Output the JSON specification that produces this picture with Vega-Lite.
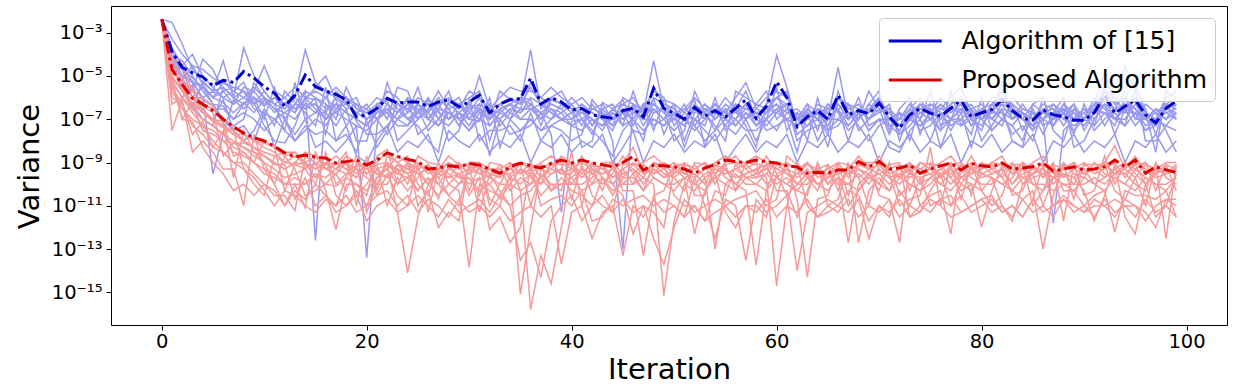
{
"$schema":"https://vega.github.io/schema/vega-lite/v6.json",
"width":1116,"height":319,
"autosize":{"type":"none"},
"padding":{"left":111,"top":6,"right":24,"bottom":67},
"background":"white",
"config":{"view":{"stroke":"#000000","strokeWidth":1},"font":"DejaVu Sans",
"axis":{"grid":false,"domain":false,"tickColor":"#000000","tickSize":5,"tickWidth":1,"labelColor":"#000000","titleColor":"#000000","labelFont":"DejaVu Sans","titleFont":"DejaVu Sans","titleFontWeight":"normal","labelFontSize":19.5,"titleFontSize":29}},
"data":{"values":[
{"i":0,"b0":4.2e-3,"b1":4.2e-3,"b2":4.2e-3,"b3":4.2e-3,"b4":4.2e-3,"b5":4.2e-3,"b6":4.2e-3,"b7":4.2e-3,"b8":4.2e-3,"b9":4.2e-3,"b10":4.2e-3,"b11":4.2e-3,"b12":4.2e-3,"b13":4.2e-3,"b14":4.2e-3,"b15":4.2e-3,"r0":4.2e-3,"r1":4.2e-3,"r2":4.2e-3,"r3":4.2e-3,"r4":4.2e-3,"r5":4.2e-3,"r6":4.2e-3,"r7":4.2e-3,"r8":4.2e-3,"r9":4.2e-3,"r10":4.2e-3,"r11":4.2e-3,"r12":4.2e-3,"r13":4.2e-3,"r14":4.2e-3,"r15":4.2e-3,"mb":4.2e-3,"mr":4.2e-3},
{"i":1,"b0":3e-3,"b1":2e-4,"b2":5e-5,"b3":1e-4,"b4":3e-5,"b5":7e-5,"b6":2e-5,"b7":1e-4,"b8":6e-6,"b9":4e-5,"b10":5e-4,"b11":8e-5,"b12":3e-5,"b13":1e-5,"b14":2e-4,"b15":4e-5,"r0":1e-4,"r1":2e-5,"r2":5e-6,"r3":1e-5,"r4":2e-6,"r5":3e-8,"r6":5e-6,"r7":3e-5,"r8":1e-6,"r9":8e-6,"r10":6e-5,"r11":1e-5,"r12":3e-6,"r13":5e-7,"r14":2e-5,"r15":8e-6,"mb":1.3e-4,"mr":2e-5},
{"i":2,"b0":3e-4,"b1":3e-5,"b2":1e-5,"b3":5e-5,"b4":4e-6,"b5":1e-5,"b6":6e-6,"b7":2e-5,"b8":1e-6,"b9":8e-6,"b10":1e-4,"b11":2e-5,"b12":5e-6,"b13":3e-5,"b14":8e-6,"b15":2e-6,"r0":3e-5,"r1":5e-6,"r2":1e-6,"r3":2e-6,"r4":3e-7,"r5":8e-7,"r6":1e-7,"r7":4e-6,"r8":5e-7,"r9":2e-6,"r10":8e-6,"r11":2e-6,"r12":5e-7,"r13":1e-6,"r14":3e-6,"r15":1e-7,"mb":2.5e-5,"mr":4e-6},
{"i":3,"b0":2e-5,"b1":1e-4,"b2":5e-6,"b3":1e-5,"b4":2e-6,"b5":6e-6,"b6":3e-5,"b7":1e-6,"b8":4e-6,"b9":3e-7,"b10":3e-5,"b11":8e-6,"b12":2e-6,"b13":5e-6,"b14":1e-6,"b15":5e-7,"r0":2e-6,"r1":1e-6,"r2":3e-7,"r3":5e-7,"r4":1e-7,"r5":3e-9,"r6":6e-7,"r7":3e-6,"r8":2e-8,"r9":8e-7,"r10":1e-6,"r11":3e-7,"r12":5e-8,"r13":2e-7,"r14":5e-7,"r15":8e-8,"mb":1.4e-5,"mr":9.3e-7},
{"i":4,"b0":5e-6,"b1":1e-5,"b2":3e-6,"b3":2e-6,"b4":6e-5,"b5":8e-7,"b6":4e-6,"b7":1e-6,"b8":2e-7,"b9":6e-6,"b10":2e-5,"b11":3e-6,"b12":5e-7,"b13":1e-6,"b14":3e-6,"b15":1e-7,"r0":5e-7,"r1":2e-7,"r2":1e-7,"r3":3e-8,"r4":5e-8,"r5":1e-8,"r6":2e-7,"r7":4e-7,"r8":8e-8,"r9":1e-6,"r10":3e-7,"r11":1e-7,"r12":2e-8,"r13":5e-8,"r14":2e-7,"r15":5e-9,"mb":9e-6,"mr":5e-7},
{"i":5,"b0":2e-6,"b1":3e-6,"b2":1e-6,"b3":5e-7,"b4":2e-5,"b5":4e-7,"b6":1e-6,"b7":3e-10,"b8":1e-7,"b9":2e-6,"b10":8e-6,"b11":1e-6,"b12":3e-7,"b13":2e-6,"b14":5e-7,"b15":5e-8,"r0":3e-7,"r1":1e-7,"r2":5e-8,"r3":2e-8,"r4":1e-8,"r5":3e-9,"r6":1e-7,"r7":2e-7,"r8":5e-9,"r9":4e-7,"r10":1e-7,"r11":5e-8,"r12":5e-9,"r13":3e-8,"r14":8e-8,"r15":1e-9,"mb":3.5e-6,"mr":2.5e-7},
{"i":6,"b0":3e-6,"b1":1e-6,"b2":5e-6,"b3":4e-7,"b4":2e-6,"b5":1e-7,"b6":6e-7,"b7":2e-8,"b8":8e-7,"b9":5e-5,"b10":5e-6,"b11":2e-6,"b12":3e-7,"b13":1e-6,"b14":1e-7,"b15":3e-6,"r0":1e-7,"r1":5e-8,"r2":2e-8,"r3":1e-8,"r4":3e-9,"r5":5e-10,"r6":8e-8,"r7":2e-9,"r8":3e-8,"r9":6e-8,"r10":5e-8,"r11":2e-8,"r12":3e-9,"r13":1e-8,"r14":4e-8,"r15":3e-10,"mb":6.3e-6,"mr":1e-7},
{"i":7,"b0":1e-6,"b1":5e-7,"b2":2e-6,"b3":1e-7,"b4":3e-6,"b5":5e-8,"b6":2e-7,"b7":8e-7,"b8":3e-8,"b9":1e-6,"b10":3e-6,"b11":5e-7,"b12":1e-7,"b13":2e-6,"b14":3e-8,"b15":1e-6,"r0":5e-8,"r1":2e-8,"r2":1e-8,"r3":3e-9,"r4":1e-9,"r5":5e-10,"r6":2e-9,"r7":8e-9,"r8":3e-8,"r9":2e-10,"r10":3e-8,"r11":5e-9,"r12":1e-9,"r13":8e-9,"r14":2e-8,"r15":5e-11,"mb":5e-6,"mr":4.5e-8},
{"i":8,"b0":2e-4,"b1":3e-6,"b2":1e-6,"b3":5e-7,"b4":2e-6,"b5":1e-7,"b6":6e-7,"b7":3e-7,"b8":1e-8,"b9":2e-6,"b10":2e-6,"b11":1e-6,"b12":2e-7,"b13":5e-6,"b14":5e-8,"b15":5e-7,"r0":2e-8,"r1":1e-8,"r2":5e-9,"r3":2e-9,"r4":1e-9,"r5":1e-11,"r6":3e-9,"r7":8e-9,"r8":5e-10,"r9":3e-8,"r10":1e-8,"r11":3e-9,"r12":5e-10,"r13":5e-9,"r14":2e-8,"r15":1e-10,"mb":1.6e-5,"mr":2.3e-8},
{"i":9,"b0":1e-5,"b1":2e-6,"b2":5e-7,"b3":1e-6,"b4":3e-7,"b5":5e-6,"b6":2e-7,"b7":1e-6,"b8":3e-8,"b9":6e-7,"b10":1e-6,"b11":3e-6,"b12":1e-7,"b13":5e-7,"b14":1e-8,"b15":2e-6,"r0":1e-8,"r1":5e-9,"r2":2e-9,"r3":1e-9,"r4":3e-10,"r5":2e-8,"r6":1e-9,"r7":5e-9,"r8":1e-10,"r9":3e-9,"r10":5e-9,"r11":1e-9,"r12":2e-10,"r13":3e-9,"r14":1e-8,"r15":3e-11,"mb":8e-6,"mr":1.4e-8},
{"i":10,"b0":2e-6,"b1":3e-5,"b2":1e-6,"b3":4e-7,"b4":2e-7,"b5":1e-6,"b6":8e-7,"b7":1e-7,"b8":3e-7,"b9":5e-8,"b10":5e-7,"b11":1e-6,"b12":3e-8,"b13":2e-6,"b14":2e-7,"b15":5e-7,"r0":5e-9,"r1":2e-9,"r2":1e-9,"r3":3e-10,"r4":1e-10,"r5":5e-10,"r6":1e-8,"r7":2e-9,"r8":3e-11,"r9":1e-9,"r10":3e-9,"r11":5e-10,"r12":5e-11,"r13":2e-9,"r14":8e-9,"r15":1e-10,"mb":3.2e-6,"mr":1e-8},
{"i":11,"b0":5e-7,"b1":2e-6,"b2":3e-7,"b3":1e-6,"b4":1e-7,"b5":5e-7,"b6":2e-7,"b7":3e-6,"b8":5e-8,"b9":1e-8,"b10":1e-6,"b11":3e-7,"b12":1e-7,"b13":5e-7,"b14":5e-9,"b15":1e-6,"r0":3e-9,"r1":1e-9,"r2":5e-10,"r3":2e-10,"r4":3e-11,"r5":1e-10,"r6":5e-9,"r7":8e-10,"r8":2e-9,"r9":1e-10,"r10":2e-9,"r11":3e-10,"r12":1e-11,"r13":1e-9,"r14":5e-9,"r15":5e-11,"mb":1.6e-6,"mr":5.6e-9},
{"i":12,"b0":3e-7,"b1":1e-6,"b2":1e-7,"b3":5e-7,"b4":2e-7,"b5":3e-8,"b6":6e-7,"b7":1e-7,"b8":2e-6,"b9":8e-9,"b10":5e-7,"b11":2e-7,"b12":3e-8,"b13":1e-6,"b14":1e-7,"b15":3e-7,"r0":1e-9,"r1":5e-10,"r2":2e-10,"r3":1e-10,"r4":3e-11,"r5":2e-9,"r6":5e-11,"r7":8e-10,"r8":3e-9,"r9":1e-11,"r10":1e-9,"r11":1e-10,"r12":5e-11,"r13":5e-10,"r14":2e-9,"r15":1e-11,"mb":4e-7,"mr":2.8e-9},
{"i":13,"b0":1e-6,"b1":3e-6,"b2":5e-7,"b3":2e-7,"b4":1e-7,"b5":5e-6,"b6":3e-7,"b7":1e-8,"b8":6e-7,"b9":5e-8,"b10":2e-7,"b11":5e-7,"b12":1e-8,"b13":3e-7,"b14":2e-8,"b15":1e-6,"r0":2e-9,"r1":1e-9,"r2":3e-10,"r3":1e-10,"r4":6e-12,"r5":5e-10,"r6":8e-10,"r7":2e-11,"r8":3e-9,"r9":1e-10,"r10":8e-10,"r11":2e-10,"r12":3e-11,"r13":1e-9,"r14":3e-9,"r15":5e-11,"mb":1.3e-6,"mr":1.8e-9},
{"i":14,"b0":1.6e-4,"b1":1e-6,"b2":3e-7,"b3":2e-6,"b4":5e-7,"b5":1e-7,"b6":8e-7,"b7":3e-8,"b8":2e-7,"b9":1e-6,"b10":1e-6,"b11":2e-6,"b12":5e-8,"b13":5e-7,"b14":1e-7,"b15":3e-7,"r0":1e-9,"r1":3e-9,"r2":5e-10,"r3":1e-10,"r4":2e-9,"r5":3e-11,"r6":1e-9,"r7":2e-10,"r8":6e-10,"r9":8e-12,"r10":5e-10,"r11":1e-10,"r12":1e-11,"r13":8e-10,"r14":1e-9,"r15":2e-11,"mb":1.1e-5,"mr":2.2e-9},
{"i":15,"b0":5e-6,"b1":2e-6,"b2":1e-6,"b3":2.5e-13,"b4":5e-7,"b5":2e-7,"b6":3e-6,"b7":1e-7,"b8":5e-8,"b9":8e-7,"b10":3e-7,"b11":1e-6,"b12":2e-8,"b13":2e-7,"b14":5e-9,"b15":5e-7,"r0":5e-10,"r1":2e-9,"r2":1e-10,"r3":3e-10,"r4":1e-9,"r5":5e-11,"r6":2e-10,"r7":1e-11,"r8":8e-10,"r9":3e-9,"r10":1e-9,"r11":3e-10,"r12":5e-12,"r13":5e-10,"r14":2e-9,"r15":1e-10,"mb":3.2e-6,"mr":1.8e-9},
{"i":16,"b0":2e-6,"b1":1e-6,"b2":3e-7,"b3":5e-7,"b4":1e-7,"b5":2e-7,"b6":1e-5,"b7":5e-8,"b8":3e-6,"b9":2e-8,"b10":1e-7,"b11":5e-7,"b12":3e-8,"b13":1e-6,"b14":1e-8,"b15":2e-7,"r0":1e-9,"r1":5e-10,"r2":3e-9,"r3":2e-10,"r4":5e-11,"r5":1e-10,"r6":8e-10,"r7":3e-11,"r8":2e-9,"r9":5e-10,"r10":5e-10,"r11":1e-10,"r12":2e-11,"r13":1e-9,"r14":8e-10,"r15":3e-11,"mb":2e-6,"mr":1.6e-9},
{"i":17,"b0":1e-6,"b1":3e-6,"b2":5e-7,"b3":1e-7,"b4":2e-7,"b5":5e-8,"b6":8e-7,"b7":3e-7,"b8":1e-8,"b9":2e-6,"b10":5e-7,"b11":2e-7,"b12":1e-8,"b13":3e-7,"b14":3e-9,"b15":1e-6,"r0":5e-10,"r1":1e-9,"r2":1e-10,"r3":5e-10,"r4":8e-13,"r5":3e-10,"r6":2e-9,"r7":1e-11,"r8":3e-11,"r9":8e-10,"r10":3e-10,"r11":8e-11,"r12":1e-11,"r13":5e-10,"r14":1e-9,"r15":5e-12,"mb":1.4e-6,"mr":9.5e-10},
{"i":18,"b0":5e-7,"b1":1e-6,"b2":2e-7,"b3":3e-6,"b4":1e-7,"b5":3e-7,"b6":5e-8,"b7":1e-6,"b8":2e-8,"b9":6e-7,"b10":2e-7,"b11":1e-6,"b12":5e-8,"b13":5e-7,"b14":1e-8,"b15":3e-7,"r0":2e-9,"r1":5e-10,"r2":3e-10,"r3":1e-9,"r4":1e-10,"r5":5e-11,"r6":8e-10,"r7":2e-10,"r8":1e-11,"r9":3e-9,"r10":1e-9,"r11":2e-10,"r12":3e-11,"r13":3e-10,"r14":5e-10,"r15":1e-11,"mb":8e-7,"mr":1.1e-9},
{"i":19,"b0":2e-7,"b1":5e-7,"b2":1e-7,"b3":3e-7,"b4":5e-8,"b5":1e-8,"b6":2e-7,"b7":8e-8,"b8":3e-9,"b9":1e-6,"b10":1e-7,"b11":3e-7,"b12":2e-9,"b13":2e-7,"b14":5e-8,"b15":5e-7,"r0":1e-9,"r1":2e-10,"r2":5e-10,"r3":3e-11,"r4":1e-10,"r5":8e-10,"r6":3e-10,"r7":2e-9,"r8":5e-11,"r9":1e-11,"r10":5e-10,"r11":1e-10,"r12":5e-12,"r13":8e-10,"r14":2e-10,"r15":3e-11,"mb":1.3e-7,"mr":1.3e-9},
{"i":20,"b0":3e-7,"b1":1e-7,"b2":5e-8,"b3":2e-7,"b4":4e-14,"b5":1e-8,"b6":5e-7,"b7":2e-8,"b8":1e-7,"b9":8e-8,"b10":5e-8,"b11":2e-7,"b12":1e-9,"b13":1e-7,"b14":3e-8,"b15":3e-7,"r0":5e-10,"r1":1e-9,"r2":2e-10,"r3":1e-10,"r4":3e-11,"r5":5e-12,"r6":8e-10,"r7":3e-10,"r8":1e-11,"r9":2e-9,"r10":3e-10,"r11":5e-11,"r12":1e-11,"r13":5e-10,"r14":1e-9,"r15":2e-12,"mb":1.6e-7,"mr":7.6e-10},
{"i":21,"b0":1e-6,"b1":2e-7,"b2":3e-7,"b3":1e-7,"b4":5e-8,"b5":5e-7,"b6":1e-7,"b7":2e-8,"b8":3e-7,"b9":5e-9,"b10":2e-7,"b11":5e-7,"b12":1e-8,"b13":3e-7,"b14":1e-7,"b15":1e-7,"r0":1e-9,"r1":3e-10,"r2":1e-10,"r3":5e-10,"r4":2e-9,"r5":1e-10,"r6":3e-11,"r7":8e-10,"r8":2e-10,"r9":5e-11,"r10":8e-10,"r11":2e-10,"r12":3e-11,"r13":3e-10,"r14":5e-10,"r15":1e-11,"mb":3.2e-7,"mr":1.3e-9},
{"i":22,"b0":5e-7,"b1":1e-6,"b2":2e-6,"b3":3e-7,"b4":5e-6,"b5":1e-7,"b6":2e-7,"b7":5e-8,"b8":8e-7,"b9":3e-8,"b10":3e-7,"b11":1e-6,"b12":5e-8,"b13":2e-7,"b14":2e-8,"b15":5e-7,"r0":3e-9,"r1":5e-10,"r2":1e-9,"r3":2e-10,"r4":4e-9,"r5":1e-10,"r6":3e-10,"r7":1e-11,"r8":8e-10,"r9":2e-9,"r10":1e-9,"r11":5e-10,"r12":5e-11,"r13":2e-10,"r14":8e-10,"r15":2e-11,"mb":9.3e-7,"mr":2.8e-9},
{"i":23,"b0":2e-7,"b1":5e-7,"b2":1e-6,"b3":1e-7,"b4":3e-7,"b5":3e-6,"b6":5e-8,"b7":2e-7,"b8":1e-8,"b9":6e-7,"b10":1e-7,"b11":3e-7,"b12":3e-9,"b13":5e-7,"b14":1e-7,"b15":2e-7,"r0":1e-9,"r1":2e-9,"r2":3e-10,"r3":5e-10,"r4":1e-10,"r5":8e-10,"r6":3e-11,"r7":2e-10,"r8":5e-12,"r9":1e-9,"r10":5e-10,"r11":1e-10,"r12":1e-11,"r13":8e-10,"r14":3e-10,"r15":5e-12,"mb":5.6e-7,"mr":1.9e-9},
{"i":24,"b0":1e-6,"b1":3e-7,"b2":2e-7,"b3":5e-7,"b4":1e-7,"b5":2e-6,"b6":5e-8,"b7":8e-7,"b8":3e-8,"b9":1e-7,"b10":2e-7,"b11":1e-7,"b12":1e-8,"b13":3e-7,"b14":5e-8,"b15":5e-7,"r0":5e-10,"r1":1e-9,"r2":2e-10,"r3":1e-10,"r4":8e-10,"r5":3e-10,"r6":1e-11,"r7":5e-11,"r8":8e-15,"r9":2e-9,"r10":3e-10,"r11":2e-10,"r12":3e-11,"r13":5e-10,"r14":1e-9,"r15":1e-11,"mb":6.3e-7,"mr":1.4e-9},
{"i":25,"b0":5e-7,"b1":1e-6,"b2":3e-6,"b3":2e-7,"b4":3e-7,"b5":1e-7,"b6":5e-7,"b7":2e-8,"b8":1e-7,"b9":5e-8,"b10":5e-7,"b11":2e-7,"b12":5e-9,"b13":1e-7,"b14":2e-7,"b15":3e-7,"r0":1e-9,"r1":3e-10,"r2":5e-10,"r3":2e-9,"r4":1e-10,"r5":5e-11,"r6":8e-10,"r7":2e-10,"r8":3e-12,"r9":1e-11,"r10":8e-10,"r11":5e-11,"r12":5e-12,"r13":3e-10,"r14":5e-10,"r15":3e-11,"mb":6.3e-7,"mr":1.1e-9},
{"i":26,"b0":2e-7,"b1":5e-7,"b2":1e-7,"b3":1e-6,"b4":3e-8,"b5":3e-7,"b6":2e-7,"b7":5e-8,"b8":8e-7,"b9":1e-8,"b10":1e-7,"b11":5e-7,"b12":2e-8,"b13":3e-7,"b14":1e-7,"b15":2e-7,"r0":3e-10,"r1":5e-10,"r2":1e-10,"r3":1e-9,"r4":3e-11,"r5":2e-10,"r6":5e-12,"r7":8e-10,"r8":1e-10,"r9":5e-11,"r10":5e-10,"r11":2e-10,"r12":2e-11,"r13":1e-10,"r14":8e-10,"r15":1e-11,"mb":3.8e-7,"mr":5e-10},
{"i":27,"b0":1e-6,"b1":3e-7,"b2":5e-7,"b3":2e-7,"b4":1e-7,"b5":2e-6,"b6":5e-8,"b7":3e-7,"b8":1e-7,"b9":3e-9,"b10":3e-7,"b11":1e-7,"b12":1e-9,"b13":5e-7,"b14":5e-8,"b15":1e-6,"r0":5e-10,"r1":1e-10,"r2":3e-10,"r3":8e-10,"r4":1e-9,"r5":2e-11,"r6":5e-10,"r7":2e-10,"r8":3e-11,"r9":1e-12,"r10":2e-10,"r11":1e-10,"r12":1e-11,"r13":5e-10,"r14":3e-10,"r15":3e-12,"mb":6.3e-7,"mr":5.6e-10},
{"i":28,"b0":3e-7,"b1":2e-6,"b2":1e-6,"b3":1e-7,"b4":5e-7,"b5":3e-7,"b6":2e-7,"b7":1e-8,"b8":5e-8,"b9":8e-7,"b10":2e-7,"b11":5e-7,"b12":3e-8,"b13":1e-7,"b14":2e-7,"b15":3e-7,"r0":1e-9,"r1":5e-10,"r2":2e-10,"r3":3e-10,"r4":1e-10,"r5":8e-10,"r6":2e-9,"r7":3e-11,"r8":1e-10,"r9":5e-12,"r10":5e-10,"r11":3e-11,"r12":3e-12,"r13":2e-10,"r14":1e-9,"r15":2e-11,"mb":7.8e-7,"mr":7e-10},
{"i":29,"b0":5e-7,"b1":1e-7,"b2":3e-7,"b3":2e-7,"b4":1e-6,"b5":5e-8,"b6":1e-7,"b7":3e-8,"b8":2e-7,"b9":5e-7,"b10":1e-7,"b11":2e-7,"b12":1e-8,"b13":5e-7,"b14":1e-7,"b15":5e-8,"r0":5e-10,"r1":1e-9,"r2":3e-10,"r3":1e-10,"r4":5e-11,"r5":2e-10,"r6":8e-10,"r7":1e-11,"r8":3e-10,"r9":2e-12,"r10":3e-10,"r11":1e-10,"r12":2e-11,"r13":8e-10,"r14":5e-10,"r15":5e-12,"mb":3.8e-7,"mr":6.3e-10},
{"i":30,"b0":1e-6,"b1":3e-7,"b2":2e-6,"b3":5e-7,"b4":1e-7,"b5":2e-7,"b6":3e-8,"b7":8e-7,"b8":5e-8,"b9":1e-7,"b10":3e-7,"b11":1e-7,"b12":5e-9,"b13":2e-7,"b14":3e-8,"b15":5e-7,"r0":1e-9,"r1":3e-10,"r2":1e-10,"r3":5e-10,"r4":1.4e-14,"r5":2e-10,"r6":5e-11,"r7":8e-10,"r8":3e-11,"r9":1e-9,"r10":5e-10,"r11":2e-10,"r12":5e-12,"r13":3e-10,"r14":8e-10,"r15":1e-11,"mb":6.3e-7,"mr":9e-10},
{"i":31,"b0":2e-6,"b1":1e-5,"b2":1e-6,"b3":3e-7,"b4":5e-7,"b5":1e-7,"b6":2e-7,"b7":1e-8,"b8":3e-7,"b9":8e-8,"b10":5e-7,"b11":3e-7,"b12":2e-8,"b13":1e-6,"b14":1e-7,"b15":2e-7,"r0":5e-10,"r1":1e-9,"r2":2e-10,"r3":3e-10,"r4":1e-10,"r5":3e-11,"r6":8e-10,"r7":5e-12,"r8":2e-10,"r9":1e-9,"r10":8e-10,"r11":5e-11,"r12":1e-11,"r13":5e-10,"r14":3e-10,"r15":2e-11,"mb":1.3e-6,"mr":7.6e-10},
{"i":32,"b0":1e-7,"b1":3e-7,"b2":5e-8,"b3":2e-7,"b4":1e-8,"b5":5e-7,"b6":1e-7,"b7":3e-8,"b8":2e-9,"b9":1e-6,"b10":2e-7,"b11":1e-7,"b12":3e-9,"b13":3e-7,"b14":5e-8,"b15":1e-7,"r0":3e-10,"r1":5e-10,"r2":1e-10,"r3":2e-10,"r4":5e-11,"r5":1e-9,"r6":1e-11,"r7":3e-10,"r8":8e-13,"r9":2e-11,"r10":3e-10,"r11":1e-10,"r12":3e-12,"r13":2e-10,"r14":5e-10,"r15":5e-12,"mb":2e-7,"mr":5e-10},
{"i":33,"b0":5e-7,"b1":1e-6,"b2":2e-7,"b3":1e-7,"b4":3e-7,"b5":5e-8,"b6":2e-6,"b7":3e-8,"b8":1e-7,"b9":5e-9,"b10":1e-7,"b11":3e-7,"b12":1e-8,"b13":5e-7,"b14":2e-7,"b15":3e-7,"r0":2e-10,"r1":5e-10,"r2":3e-10,"r3":1e-10,"r4":3e-11,"r5":8e-10,"r6":1e-10,"r7":5e-11,"r8":3e-12,"r9":1e-11,"r10":5e-10,"r11":2e-11,"r12":1e-11,"r13":8e-10,"r14":2e-10,"r15":3e-11,"mb":5e-7,"mr":3.2e-10},
{"i":34,"b0":1e-6,"b1":3e-6,"b2":5e-7,"b3":3e-7,"b4":1e-7,"b5":2e-7,"b6":8e-7,"b7":5e-8,"b8":2e-8,"b9":1e-7,"b10":3e-7,"b11":5e-7,"b12":5e-9,"b13":2e-7,"b14":1e-7,"b15":5e-7,"r0":5e-10,"r1":1e-9,"r2":3e-10,"r3":1e-10,"r4":2e-10,"r5":5e-11,"r6":8e-10,"r7":1e-11,"r8":2e-13,"r9":3e-10,"r10":2e-10,"r11":1e-10,"r12":2e-12,"r13":5e-10,"r14":8e-10,"r15":1e-11,"mb":8e-7,"mr":6.3e-10},
{"i":35,"b0":5e-7,"b1":2e-6,"b2":1e-6,"b3":2e-7,"b4":3e-7,"b5":1e-7,"b6":5e-7,"b7":1e-8,"b8":3e-8,"b9":1e-6,"b10":2e-7,"b11":1e-7,"b12":2e-8,"b13":1e-6,"b14":3e-8,"b15":3e-7,"r0":1e-9,"r1":3e-10,"r2":8e-16,"r3":5e-10,"r4":1e-10,"r5":2e-10,"r6":5e-11,"r7":3e-11,"r8":1e-12,"r9":8e-10,"r10":5e-10,"r11":5e-11,"r12":5e-12,"r13":3e-10,"r14":1e-9,"r15":3e-14,"mb":8.9e-7,"mr":9.5e-10},
{"i":36,"b0":1.6e-4,"b1":2e-6,"b2":5e-7,"b3":1e-6,"b4":3e-7,"b5":1e-7,"b6":3e-6,"b7":2e-7,"b8":5e-8,"b9":8e-7,"b10":5e-7,"b11":3e-7,"b12":1e-9,"b13":3e-7,"b14":1e-7,"b15":5e-6,"r0":5e-10,"r1":1e-9,"r2":1e-12,"r3":2e-10,"r4":3e-10,"r5":1e-10,"r6":1.6e-16,"r7":5e-11,"r8":8e-10,"r9":1e-11,"r10":3e-10,"r11":1e-10,"r12":1e-11,"r13":5e-10,"r14":8e-10,"r15":2e-13,"mb":7.9e-6,"mr":7e-10},
{"i":37,"b0":3e-7,"b1":1e-6,"b2":2e-7,"b3":5e-7,"b4":1e-7,"b5":3e-8,"b6":5e-7,"b7":1e-8,"b8":2e-7,"b9":5e-8,"b10":1e-7,"b11":2e-7,"b12":1e-8,"b13":5e-7,"b14":3e-8,"b15":1e-6,"r0":1e-9,"r1":2e-10,"r2":5e-10,"r3":1e-10,"r4":3e-11,"r5":8e-10,"r6":5e-14,"r7":2e-10,"r8":1e-11,"r9":3e-10,"r10":8e-10,"r11":2e-10,"r12":3e-12,"r13":1e-10,"r14":5e-10,"r15":5e-15,"mb":5e-7,"mr":5.6e-10},
{"i":38,"b0":1e-6,"b1":3e-6,"b2":5e-7,"b3":2e-7,"b4":1e-6,"b5":1e-7,"b6":3e-7,"b7":5e-8,"b8":2e-8,"b9":8e-7,"b10":3e-7,"b11":1e-7,"b12":5e-9,"b13":2e-7,"b14":5e-8,"b15":5e-7,"r0":2e-9,"r1":5e-10,"r2":3e-10,"r3":1e-9,"r4":1e-10,"r5":5e-11,"r6":2.5e-15,"r7":8e-10,"r8":2e-11,"r9":1e-10,"r10":5e-10,"r11":5e-11,"r12":1e-11,"r13":3e-10,"r14":1e-9,"r15":2e-12,"mb":1e-6,"mr":9e-10},
{"i":39,"b0":5e-7,"b1":1e-6,"b2":3e-7,"b3":1e-7,"b4":2e-6,"b5":2e-7,"b6":1e-7,"b7":3e-8,"b8":5e-12,"b9":5e-7,"b10":2e-7,"b11":5e-7,"b12":2e-8,"b13":1e-7,"b14":1e-7,"b15":3e-7,"r0":1e-9,"r1":2e-9,"r2":5e-10,"r3":3e-10,"r4":1e-10,"r5":2e-10,"r6":1e-12,"r7":8e-10,"r8":3e-11,"r9":5e-11,"r10":3e-10,"r11":1e-10,"r12":2e-14,"r13":5e-10,"r14":8e-10,"r15":1e-11,"mb":6.3e-7,"mr":1.3e-9},
{"i":40,"b0":2e-7,"b1":5e-7,"b2":1e-6,"b3":1e-7,"b4":3e-7,"b5":5e-8,"b6":2e-7,"b7":1e-8,"b8":8e-8,"b9":3e-7,"b10":5e-7,"b11":3e-7,"b12":3e-9,"b13":2e-7,"b14":5e-8,"b15":1e-7,"r0":5e-10,"r1":1e-9,"r2":2e-10,"r3":3e-10,"r4":1e-10,"r5":5e-11,"r6":8e-10,"r7":2e-11,"r8":1e-11,"r9":3e-9,"r10":5e-10,"r11":2e-10,"r12":5e-12,"r13":1e-10,"r14":8e-10,"r15":3e-11,"mb":2.7e-7,"mr":9.5e-10},
{"i":41,"b0":5e-7,"b1":1e-6,"b2":3e-7,"b3":2e-7,"b4":5e-8,"b5":1e-7,"b6":3e-7,"b7":2e-8,"b8":1e-7,"b9":5e-9,"b10":1e-7,"b11":2e-7,"b12":1e-8,"b13":5e-7,"b14":3e-8,"b15":3e-7,"r0":1e-9,"r1":3e-10,"r2":5e-10,"r3":2e-9,"r4":1e-10,"r5":3e-11,"r6":2e-10,"r7":8e-10,"r8":5e-11,"r9":1e-11,"r10":2e-10,"r11":5e-11,"r12":1e-11,"r13":5e-10,"r14":3e-10,"r15":2e-12,"mb":3.2e-7,"mr":1.3e-9},
{"i":42,"b0":2e-7,"b1":3e-7,"b2":5e-8,"b3":1e-7,"b4":5e-7,"b5":2e-8,"b6":1e-7,"b7":8e-7,"b8":3e-8,"b9":1e-8,"b10":3e-7,"b11":1e-7,"b12":5e-9,"b13":2e-7,"b14":1e-7,"b15":5e-8,"r0":5e-10,"r1":1e-9,"r2":1e-10,"r3":3e-10,"r4":2e-10,"r5":1e-11,"r6":5e-10,"r7":3e-11,"r8":2e-12,"r9":8e-10,"r10":5e-10,"r11":1e-10,"r12":3e-13,"r13":3e-10,"r14":8e-10,"r15":1e-11,"mb":1.6e-7,"mr":9.5e-10},
{"i":43,"b0":1e-7,"b1":5e-7,"b2":2e-7,"b3":3e-8,"b4":1e-7,"b5":3e-7,"b6":5e-8,"b7":2e-7,"b8":1e-8,"b9":6e-7,"b10":2e-7,"b11":5e-8,"b12":2e-8,"b13":1e-7,"b14":5e-8,"b15":3e-7,"r0":3e-10,"r1":5e-10,"r2":8e-10,"r3":1e-10,"r4":1e-9,"r5":2e-10,"r6":5e-11,"r7":1e-11,"r8":3e-12,"r9":2e-10,"r10":3e-10,"r11":2e-10,"r12":5e-12,"r13":8e-10,"r14":5e-10,"r15":3e-11,"mb":1.3e-7,"mr":8e-10},
{"i":44,"b0":3e-7,"b1":1e-7,"b2":5e-8,"b3":2e-7,"b4":3e-8,"b5":5e-7,"b6":1e-7,"b7":1e-8,"b8":2e-9,"b9":3e-7,"b10":1e-7,"b11":3e-7,"b12":1e-9,"b13":5e-8,"b14":2e-7,"b15":1e-7,"r0":5e-10,"r1":2e-10,"r2":1e-10,"r3":3e-10,"r4":1e-9,"r5":3e-11,"r6":8e-10,"r7":5e-12,"r8":2e-11,"r9":1e-10,"r10":5e-10,"r11":5e-11,"r12":1e-11,"r13":2e-10,"r14":1e-9,"r15":5e-12,"mb":1.1e-7,"mr":6.3e-10},
{"i":45,"b0":5e-7,"b1":2e-7,"b2":1e-6,"b3":1e-7,"b4":3e-7,"b5":5e-8,"b6":2e-7,"b7":1e-13,"b8":3e-8,"b9":8e-7,"b10":3e-7,"b11":1e-7,"b12":5e-9,"b13":2e-7,"b14":5e-8,"b15":5e-7,"r0":1e-9,"r1":5e-10,"r2":3e-10,"r3":2e-9,"r4":1e-10,"r5":2e-10,"r6":5e-11,"r7":8e-10,"r8":1e-11,"r9":3e-11,"r10":2e-10,"r11":1e-10,"r12":5e-14,"r13":5e-10,"r14":3e-10,"r15":2e-11,"mb":2.5e-7,"mr":1e-9},
{"i":46,"b0":1e-6,"b1":3e-7,"b2":5e-7,"b3":2e-7,"b4":1e-7,"b5":2e-6,"b6":3e-8,"b7":5e-7,"b8":1e-7,"b9":5e-8,"b10":2e-7,"b11":5e-7,"b12":3e-8,"b13":1e-7,"b14":1e-7,"b15":3e-7,"r0":5e-9,"r1":1e-9,"r2":5e-10,"r3":3e-10,"r4":1e-10,"r5":2e-10,"r6":5e-11,"r7":8e-10,"r8":2e-11,"r9":5e-13,"r10":8e-10,"r11":3e-10,"r12":1e-11,"r13":1e-10,"r14":5e-10,"r15":5e-12,"mb":3.2e-7,"mr":1.9e-9},
{"i":47,"b0":2e-7,"b1":1e-7,"b2":5e-8,"b3":3e-7,"b4":5e-7,"b5":1e-7,"b6":2e-8,"b7":3e-7,"b8":1e-8,"b9":5e-7,"b10":1e-7,"b11":2e-7,"b12":1e-9,"b13":5e-7,"b14":3e-8,"b15":1e-7,"r0":3e-10,"r1":5e-10,"r2":1e-10,"r3":8e-10,"r4":2e-10,"r5":5e-11,"r6":5e-14,"r7":1e-9,"r8":3e-11,"r9":1e-11,"r10":3e-10,"r11":5e-11,"r12":3e-12,"r13":8e-10,"r14":2e-10,"r15":1e-11,"mb":1.3e-7,"mr":4.5e-10},
{"i":48,"b0":5e-5,"b1":1e-6,"b2":3e-7,"b3":2e-6,"b4":5e-7,"b5":1e-7,"b6":2e-7,"b7":5e-8,"b8":1e-6,"b9":3e-8,"b10":5e-7,"b11":3e-7,"b12":1e-8,"b13":2e-7,"b14":1e-7,"b15":3e-6,"r0":1e-9,"r1":3e-10,"r2":5e-10,"r3":2e-10,"r4":1e-10,"r5":8e-10,"r6":3e-11,"r7":2e-9,"r8":1e-11,"r9":5e-12,"r10":5e-10,"r11":2e-10,"r12":2e-11,"r13":3e-10,"r14":1e-9,"r15":3e-13,"mb":2.7e-6,"mr":7.6e-10},
{"i":49,"b0":3e-7,"b1":5e-7,"b2":1e-7,"b3":1e-6,"b4":2e-7,"b5":5e-8,"b6":3e-7,"b7":1e-7,"b8":2e-8,"b9":8e-7,"b10":2e-7,"b11":1e-7,"b12":5e-9,"b13":3e-7,"b14":5e-8,"b15":5e-7,"r0":5e-10,"r1":1e-9,"r2":2e-10,"r3":1e-10,"r4":7e-16,"r5":3e-10,"r6":5e-11,"r7":8e-10,"r8":2e-11,"r9":1e-12,"r10":2e-10,"r11":1e-10,"r12":5e-12,"r13":5e-10,"r14":8e-10,"r15":2e-14,"mb":3.2e-7,"mr":7e-10},
{"i":50,"b0":1e-7,"b1":3e-7,"b2":2e-7,"b3":5e-8,"b4":5e-7,"b5":1e-7,"b6":1e-8,"b7":3e-8,"b8":2e-7,"b9":5e-7,"b10":1e-7,"b11":5e-7,"b12":2e-8,"b13":1e-7,"b14":2e-7,"b15":3e-7,"r0":1e-9,"r1":5e-10,"r2":3e-10,"r3":1e-10,"r4":2e-12,"r5":2e-10,"r6":8e-10,"r7":3e-11,"r8":1e-11,"r9":5e-10,"r10":5e-10,"r11":5e-11,"r12":1e-11,"r13":2e-10,"r14":3e-10,"r15":1e-12,"mb":1.9e-7,"mr":6.3e-10},
{"i":51,"b0":5e-8,"b1":1e-7,"b2":3e-7,"b3":2e-7,"b4":1e-8,"b5":5e-7,"b6":3e-8,"b7":1e-7,"b8":5e-9,"b9":2e-7,"b10":3e-7,"b11":2e-7,"b12":3e-9,"b13":5e-8,"b14":1e-7,"b15":1e-7,"r0":3e-10,"r1":1e-9,"r2":5e-10,"r3":2e-10,"r4":1e-10,"r5":5e-11,"r6":8e-10,"r7":1e-11,"r8":3e-12,"r9":2e-10,"r10":3e-10,"r11":2e-10,"r12":3e-12,"r13":5e-10,"r14":8e-10,"r15":2e-11,"mb":1e-7,"mr":5e-10},
{"i":52,"b0":5e-7,"b1":3e-7,"b2":1e-6,"b3":1e-7,"b4":2e-7,"b5":5e-8,"b6":2e-6,"b7":3e-8,"b8":1e-7,"b9":8e-7,"b10":2e-7,"b11":1e-7,"b12":1e-8,"b13":3e-7,"b14":5e-8,"b15":5e-7,"r0":2e-10,"r1":5e-10,"r2":1e-10,"r3":3e-10,"r4":5e-11,"r5":1e-9,"r6":3e-11,"r7":1e-11,"r8":2e-10,"r9":5e-13,"r10":8e-10,"r11":1e-10,"r12":1e-11,"r13":3e-10,"r14":5e-10,"r15":5e-12,"mb":3.5e-7,"mr":3.2e-10},
{"i":53,"b0":2e-7,"b1":1e-7,"b2":3e-7,"b3":5e-8,"b4":5e-7,"b5":1e-8,"b6":2e-7,"b7":1e-7,"b8":3e-8,"b9":5e-9,"b10":5e-7,"b11":3e-7,"b12":5e-9,"b13":1e-7,"b14":2e-7,"b15":1e-7,"r0":5e-10,"r1":1e-9,"r2":3e-10,"r3":1e-10,"r4":2e-10,"r5":8e-10,"r6":3e-11,"r7":2e-12,"r8":1e-11,"r9":5e-11,"r10":2e-10,"r11":5e-11,"r12":2e-12,"r13":1e-10,"r14":1e-9,"r15":1e-11,"mb":1.4e-7,"mr":5.6e-10},
{"i":54,"b0":5e-7,"b1":3e-7,"b2":1e-7,"b3":1e-6,"b4":2e-7,"b5":3e-8,"b6":5e-8,"b7":5e-7,"b8":1e-8,"b9":2e-7,"b10":1e-7,"b11":2e-7,"b12":2e-8,"b13":5e-7,"b14":3e-8,"b15":3e-7,"r0":1e-9,"r1":3e-10,"r2":5e-10,"r3":2e-10,"r4":1e-13,"r5":1e-10,"r6":8e-10,"r7":5e-11,"r8":2e-11,"r9":3e-10,"r10":5e-10,"r11":2e-10,"r12":5e-12,"r13":8e-10,"r14":3e-10,"r15":3e-13,"mb":2.5e-7,"mr":8e-10},
{"i":55,"b0":1e-7,"b1":2e-7,"b2":5e-7,"b3":3e-8,"b4":1e-7,"b5":3e-7,"b6":1e-8,"b7":2e-7,"b8":5e-8,"b9":1e-6,"b10":3e-7,"b11":1e-7,"b12":1e-9,"b13":2e-7,"b14":1e-7,"b15":5e-8,"r0":2e-9,"r1":1e-9,"r2":3e-10,"r3":5e-10,"r4":1e-10,"r5":8e-10,"r6":2e-10,"r7":3e-11,"r8":1e-11,"r9":5e-12,"r10":3e-10,"r11":1e-10,"r12":1e-11,"r13":5e-10,"r14":8e-10,"r15":2e-11,"mb":1.3e-7,"mr":1.3e-9},
{"i":56,"b0":3e-7,"b1":1e-6,"b2":2e-7,"b3":1e-7,"b4":5e-7,"b5":5e-8,"b6":2e-6,"b7":1e-7,"b8":2e-8,"b9":3e-7,"b10":2e-7,"b11":5e-7,"b12":5e-9,"b13":1e-7,"b14":5e-8,"b15":3e-7,"r0":1e-9,"r1":2e-9,"r2":5e-10,"r3":1e-10,"r4":3e-10,"r5":5e-11,"r6":1e-10,"r7":8e-10,"r8":2e-11,"r9":1e-12,"r10":5e-10,"r11":5e-11,"r12":3e-12,"r13":2e-10,"r14":1e-9,"r15":1e-11,"mb":3.2e-7,"mr":1.1e-9},
{"i":57,"b0":2e-6,"b1":5e-6,"b2":5e-7,"b3":3e-7,"b4":1e-7,"b5":2e-7,"b6":1e-6,"b7":3e-8,"b8":1e-7,"b9":5e-8,"b10":1e-7,"b11":3e-7,"b12":2e-8,"b13":5e-7,"b14":2e-7,"b15":1e-7,"r0":1e-9,"r1":5e-10,"r2":2e-10,"r3":3e-10,"r4":1e-10,"r5":1e-9,"r6":5e-11,"r7":2e-10,"r8":3e-11,"r9":1e-11,"r10":8e-10,"r11":2e-10,"r12":1e-11,"r13":3e-10,"r14":5e-10,"r15":3e-14,"mb":8e-7,"mr":1e-9},
{"i":58,"b0":1e-7,"b1":3e-7,"b2":5e-8,"b3":2e-7,"b4":1e-8,"b5":1e-7,"b6":5e-7,"b7":3e-8,"b8":2e-7,"b9":5e-9,"b10":3e-7,"b11":2e-7,"b12":3e-9,"b13":1e-7,"b14":5e-8,"b15":5e-7,"r0":2e-9,"r1":1e-9,"r2":3e-10,"r3":5e-10,"r4":1e-10,"r5":8e-10,"r6":1.8e-14,"r7":2e-10,"r8":5e-11,"r9":1e-11,"r10":3e-10,"r11":1e-10,"r12":5e-12,"r13":5e-10,"r14":2e-10,"r15":2e-11,"mb":1.1e-7,"mr":1.3e-9},
{"i":59,"b0":5e-7,"b1":1e-6,"b2":2e-7,"b3":3e-7,"b4":1e-7,"b5":5e-8,"b6":2e-6,"b7":1e-7,"b8":3e-8,"b9":5e-7,"b10":2e-7,"b11":1e-7,"b12":1e-8,"b13":3e-7,"b14":1e-7,"b15":3e-7,"r0":1e-9,"r1":5e-10,"r2":2e-9,"r3":1e-10,"r4":3e-10,"r5":2e-10,"r6":5e-11,"r7":8e-10,"r8":1e-11,"r9":3e-12,"r10":5e-10,"r11":5e-11,"r12":2e-11,"r13":8e-10,"r14":3e-10,"r15":5e-12,"mb":4e-7,"mr":1.1e-9},
{"i":60,"b0":9e-5,"b1":2e-6,"b2":1e-6,"b3":5e-7,"b4":3e-7,"b5":2e-7,"b6":1e-7,"b7":3e-6,"b8":5e-8,"b9":1e-6,"b10":5e-7,"b11":3e-7,"b12":5e-9,"b13":2e-7,"b14":3e-8,"b15":1e-6,"r0":5e-10,"r1":1e-9,"r2":3e-10,"r3":2e-10,"r4":1e-10,"r5":2e-15,"r6":8e-10,"r7":5e-11,"r8":2e-11,"r9":3e-10,"r10":2e-10,"r11":2e-10,"r12":3e-12,"r13":5e-10,"r14":1e-9,"r15":1e-11,"mb":5.4e-6,"mr":9.5e-10},
{"i":61,"b0":3e-6,"b1":1e-6,"b2":5e-7,"b3":2e-7,"b4":1e-7,"b5":5e-7,"b6":3e-7,"b7":3e-8,"b8":1e-7,"b9":2e-6,"b10":1e-7,"b11":5e-7,"b12":2e-8,"b13":1e-7,"b14":2e-7,"b15":3e-7,"r0":1e-9,"r1":3e-10,"r2":5e-10,"r3":1e-10,"r4":2e-10,"r5":1e-11,"r6":8e-10,"r7":5e-11,"r8":2e-9,"r9":3e-11,"r10":5e-10,"r11":1e-10,"r12":1e-11,"r13":3e-10,"r14":8e-10,"r15":3e-11,"mb":1e-6,"mr":7e-10},
{"i":62,"b0":5e-8,"b1":1e-7,"b2":2e-8,"b3":3e-7,"b4":5e-8,"b5":1e-8,"b6":1e-7,"b7":2e-7,"b8":3e-9,"b9":5e-8,"b10":2e-7,"b11":1e-7,"b12":1e-9,"b13":5e-8,"b14":1e-7,"b15":1e-7,"r0":5e-10,"r1":2e-10,"r2":1e-10,"r3":3e-10,"r4":5e-11,"r5":1e-9,"r6":2e-11,"r7":3e-12,"r8":8e-10,"r9":1e-10,"r10":3e-10,"r11":5e-11,"r12":5e-12,"r13":1e-10,"r14":5e-10,"r15":1e-14,"mb":4.5e-8,"mr":6.3e-10},
{"i":63,"b0":1e-7,"b1":3e-7,"b2":5e-8,"b3":1e-7,"b4":2e-7,"b5":3e-8,"b6":5e-7,"b7":1e-8,"b8":2e-7,"b9":1e-7,"b10":1e-7,"b11":2e-7,"b12":1e-8,"b13":3e-7,"b14":5e-8,"b15":5e-7,"r0":2e-10,"r1":5e-10,"r2":1e-10,"r3":1e-9,"r4":3e-11,"r5":2e-10,"r6":5e-15,"r7":5e-11,"r8":1e-11,"r9":3e-10,"r10":8e-10,"r11":2e-10,"r12":2e-11,"r13":3e-10,"r14":1e-9,"r15":5e-12,"mb":1.3e-7,"mr":3.2e-10},
{"i":64,"b0":3e-7,"b1":1e-7,"b2":2e-7,"b3":5e-7,"b4":1e-7,"b5":5e-8,"b6":3e-8,"b7":1e-6,"b8":1e-8,"b9":2e-7,"b10":3e-7,"b11":1e-7,"b12":5e-9,"b13":1e-7,"b14":1e-7,"b15":2e-7,"r0":3e-10,"r1":1e-10,"r2":5e-10,"r3":2e-10,"r4":1e-9,"r5":5e-11,"r6":2e-11,"r7":8e-10,"r8":3e-12,"r9":1e-10,"r10":5e-10,"r11":1e-10,"r12":3e-12,"r13":5e-10,"r14":3e-10,"r15":1e-11,"mb":2.5e-7,"mr":3.5e-10},
{"i":65,"b0":1e-7,"b1":2e-7,"b2":5e-8,"b3":3e-7,"b4":2e-8,"b5":1e-7,"b6":5e-7,"b7":3e-8,"b8":1e-7,"b9":5e-9,"b10":2e-7,"b11":3e-7,"b12":2e-8,"b13":5e-7,"b14":3e-8,"b15":1e-7,"r0":5e-10,"r1":2e-10,"r2":1e-10,"r3":3e-10,"r4":1e-10,"r5":8e-10,"r6":3e-11,"r7":1e-11,"r8":5e-12,"r9":2e-10,"r10":2e-10,"r11":5e-11,"r12":1e-11,"r13":8e-10,"r14":5e-10,"r15":2e-11,"mb":1e-7,"mr":3.2e-10},
{"i":66,"b0":2.5e-5,"b1":1e-6,"b2":5e-7,"b3":3e-7,"b4":2e-6,"b5":1e-7,"b6":2e-7,"b7":5e-8,"b8":3e-7,"b9":1e-6,"b10":5e-7,"b11":1e-6,"b12":3e-9,"b13":2e-7,"b14":1e-7,"b15":3e-7,"r0":3e-10,"r1":1e-9,"r2":5e-10,"r3":1e-10,"r4":2e-10,"r5":5e-11,"r6":8e-10,"r7":2e-11,"r8":1e-11,"r9":3e-10,"r10":5e-10,"r11":2e-10,"r12":5e-12,"r13":3e-10,"r14":1e-9,"r15":1e-11,"mb":1.3e-6,"mr":4.5e-10},
{"i":67,"b0":1e-7,"b1":3e-7,"b2":2e-7,"b3":5e-8,"b4":1e-7,"b5":5e-7,"b6":3e-8,"b7":2e-7,"b8":1e-8,"b9":5e-7,"b10":1e-7,"b11":2e-7,"b12":1e-8,"b13":1e-7,"b14":5e-8,"b15":5e-7,"r0":5e-10,"r1":2e-10,"r2":3e-10,"r3":1e-10,"r4":2e-13,"r5":1e-9,"r6":3e-11,"r7":8e-10,"r8":5e-11,"r9":1e-11,"r10":3e-10,"r11":1e-10,"r12":2e-11,"r13":5e-10,"r14":8e-10,"r15":5e-12,"mb":1.6e-7,"mr":4.5e-10},
{"i":68,"b0":3e-7,"b1":5e-7,"b2":1e-7,"b3":2e-7,"b4":1e-6,"b5":3e-8,"b6":1e-7,"b7":5e-8,"b8":2e-7,"b9":3e-7,"b10":3e-7,"b11":1e-7,"b12":5e-9,"b13":3e-7,"b14":2e-7,"b15":1e-7,"r0":2e-9,"r1":1e-9,"r2":5e-10,"r3":3e-10,"r4":1e-10,"r5":2e-13,"r6":8e-10,"r7":2e-10,"r8":3e-11,"r9":5e-11,"r10":8e-10,"r11":5e-11,"r12":3e-12,"r13":2e-10,"r14":5e-10,"r15":2e-11,"mb":2.5e-7,"mr":1.1e-9},
{"i":69,"b0":2e-7,"b1":1e-7,"b2":5e-7,"b3":3e-7,"b4":5e-8,"b5":1e-7,"b6":2e-6,"b7":1e-8,"b8":3e-8,"b9":2e-7,"b10":2e-7,"b11":5e-7,"b12":2e-8,"b13":1e-7,"b14":3e-8,"b15":3e-7,"r0":5e-10,"r1":1e-9,"r2":2e-10,"r3":1e-10,"r4":3e-10,"r5":5e-11,"r6":8e-10,"r7":1e-11,"r8":2e-12,"r9":3e-10,"r10":5e-10,"r11":2e-10,"r12":1e-11,"r13":5e-10,"r14":3e-10,"r15":3e-13,"mb":1.8e-7,"mr":6.3e-10},
{"i":70,"b0":1e-6,"b1":3e-7,"b2":2e-6,"b3":5e-7,"b4":1e-7,"b5":2e-7,"b6":3e-7,"b7":5e-8,"b8":1e-7,"b9":8e-7,"b10":5e-7,"b11":2e-7,"b12":1e-9,"b13":5e-7,"b14":1e-7,"b15":1e-6,"r0":2e-9,"r1":1e-9,"r2":3e-10,"r3":5e-10,"r4":1e-10,"r5":2e-10,"r6":3e-11,"r7":8e-10,"r8":1e-11,"r9":5e-11,"r10":3e-10,"r11":1e-10,"r12":5e-12,"r13":8e-10,"r14":1e-9,"r15":1e-11,"mb":5.6e-7,"mr":1.1e-9},
{"i":71,"b0":1e-7,"b1":2e-7,"b2":5e-8,"b3":3e-7,"b4":1e-7,"b5":5e-7,"b6":2e-8,"b7":1e-7,"b8":5e-9,"b9":3e-8,"b10":1e-7,"b11":3e-7,"b12":1e-8,"b13":2e-7,"b14":5e-8,"b15":1e-7,"r0":3e-10,"r1":5e-10,"r2":1e-10,"r3":2e-10,"r4":1e-9,"r5":5e-11,"r6":2e-11,"r7":3e-10,"r8":3e-12,"r9":8e-10,"r10":5e-10,"r11":5e-11,"r12":2e-11,"r13":2e-10,"r14":5e-10,"r15":5e-12,"mb":1.3e-7,"mr":5e-10},
{"i":72,"b0":3e-8,"b1":5e-8,"b2":1e-7,"b3":2e-8,"b4":1e-7,"b5":1e-8,"b6":2e-7,"b7":5e-8,"b8":3e-9,"b9":3e-7,"b10":2e-7,"b11":1e-7,"b12":5e-9,"b13":5e-8,"b14":2e-8,"b15":2e-7,"r0":5e-10,"r1":2e-10,"r2":3e-10,"r3":1e-10,"r4":3e-11,"r5":8e-10,"r6":2e-13,"r7":1e-11,"r8":5e-11,"r9":1e-9,"r10":2e-10,"r11":2e-10,"r12":3e-12,"r13":3e-10,"r14":8e-10,"r15":2e-11,"mb":3.9e-8,"mr":5.6e-10},
{"i":73,"b0":2e-7,"b1":1e-7,"b2":3e-7,"b3":5e-8,"b4":5e-7,"b5":2e-7,"b6":1e-8,"b7":1e-7,"b8":3e-8,"b9":1e-6,"b10":1e-7,"b11":5e-7,"b12":2e-8,"b13":3e-7,"b14":1e-7,"b15":1e-7,"r0":1e-9,"r1":5e-10,"r2":2e-10,"r3":3e-10,"r4":1e-10,"r5":5e-11,"r6":8e-10,"r7":2e-11,"r8":1e-11,"r9":3e-12,"r10":8e-10,"r11":1e-10,"r12":1e-11,"r13":5e-10,"r14":3e-10,"r15":3e-12,"mb":1.6e-7,"mr":7.6e-10},
{"i":74,"b0":5e-7,"b1":3e-7,"b2":1e-6,"b3":2e-7,"b4":1e-7,"b5":3e-8,"b6":5e-7,"b7":5e-8,"b8":1e-7,"b9":2e-8,"b10":3e-7,"b11":2e-7,"b12":3e-9,"b13":1e-7,"b14":5e-8,"b15":5e-7,"r0":3e-10,"r1":1e-10,"r2":5e-10,"r3":2e-10,"r4":5e-11,"r5":1e-9,"r6":1e-11,"r7":3e-11,"r8":2e-10,"r9":5e-12,"r10":5e-10,"r11":5e-11,"r12":5e-12,"r13":1e-10,"r14":1e-9,"r15":1e-11,"mb":3.2e-7,"mr":3.2e-10},
{"i":75,"b0":2e-7,"b1":5e-7,"b2":1e-7,"b3":3e-7,"b4":2e-6,"b5":5e-8,"b6":2e-7,"b7":1e-7,"b8":1e-8,"b9":3e-7,"b10":2e-7,"b11":1e-7,"b12":1e-8,"b13":5e-7,"b14":2e-7,"b15":3e-7,"r0":5e-10,"r1":2e-10,"r2":1e-9,"r3":3e-10,"r4":1e-10,"r5":8e-10,"r6":3e-11,"r7":5e-9,"r8":1e-11,"r9":5e-11,"r10":3e-10,"r11":2e-10,"r12":2e-11,"r13":8e-10,"r14":5e-10,"r15":5e-12,"mb":1.9e-7,"mr":5e-10},
{"i":76,"b0":1e-7,"b1":3e-7,"b2":5e-7,"b3":1e-7,"b4":5e-8,"b5":2e-7,"b6":1e-6,"b7":3e-8,"b8":2e-7,"b9":5e-9,"b10":5e-7,"b11":3e-7,"b12":5e-9,"b13":2e-7,"b14":3e-8,"b15":1e-7,"r0":1e-9,"r1":5e-10,"r2":2e-10,"r3":1e-10,"r4":3e-10,"r5":8e-10,"r6":5e-11,"r7":1e-11,"r8":2e-11,"r9":3e-10,"r10":5e-10,"r11":1e-10,"r12":1e-11,"r13":3e-10,"r14":2e-10,"r15":2e-11,"mb":1.4e-7,"mr":7e-10},
{"i":77,"b0":5e-7,"b1":1e-6,"b2":2e-7,"b3":3e-7,"b4":1e-7,"b5":5e-8,"b6":3e-7,"b7":2e-6,"b8":3e-8,"b9":1e-7,"b10":1e-7,"b11":2e-7,"b12":2e-8,"b13":1e-7,"b14":1e-7,"b15":5e-7,"r0":2e-9,"r1":1e-9,"r2":5e-10,"r3":3e-10,"r4":1e-10,"r5":2e-10,"r6":5e-13,"r7":8e-10,"r8":3e-11,"r9":1e-11,"r10":2e-10,"r11":5e-11,"r12":3e-12,"r13":5e-10,"r14":8e-10,"r15":1e-11,"mb":3.2e-7,"mr":9.5e-10},
{"i":78,"b0":1e-6,"b1":3e-6,"b2":5e-7,"b3":2e-7,"b4":1e-6,"b5":1e-7,"b6":3e-7,"b7":5e-8,"b8":2e-7,"b9":1e-7,"b10":3e-7,"b11":5e-7,"b12":1e-9,"b13":3e-7,"b14":5e-8,"b15":1e-6,"r0":5e-10,"r1":2e-10,"r2":1e-10,"r3":8e-10,"r4":3e-10,"r5":5e-11,"r6":1e-9,"r7":2e-11,"r8":5e-12,"r9":1e-10,"r10":8e-10,"r11":2e-10,"r12":5e-12,"r13":2e-10,"r14":1e-9,"r15":3e-11,"mb":7.8e-7,"mr":4.5e-10},
{"i":79,"b0":1e-7,"b1":2e-7,"b2":5e-8,"b3":3e-7,"b4":1e-7,"b5":2e-8,"b6":5e-7,"b7":1e-7,"b8":5e-9,"b9":3e-7,"b10":2e-7,"b11":1e-7,"b12":1e-8,"b13":5e-8,"b14":2e-7,"b15":3e-7,"r0":1e-9,"r1":3e-10,"r2":5e-10,"r3":2e-10,"r4":2e-9,"r5":1e-10,"r6":3e-11,"r7":8e-10,"r8":1e-11,"r9":5e-11,"r10":5e-10,"r11":1e-10,"r12":1e-11,"r13":5e-10,"r14":3e-10,"r15":5e-12,"mb":1.3e-7,"mr":9e-10},
{"i":80,"b0":3e-7,"b1":1e-7,"b2":2e-7,"b3":5e-7,"b4":5e-8,"b5":1e-6,"b6":1e-7,"b7":3e-8,"b8":2e-7,"b9":1e-8,"b10":1e-7,"b11":3e-7,"b12":5e-9,"b13":2e-7,"b14":1e-7,"b15":1e-7,"r0":5e-10,"r1":1e-9,"r2":2e-10,"r3":1e-10,"r4":3e-10,"r5":1e-12,"r6":8e-10,"r7":5e-11,"r8":2e-11,"r9":3e-10,"r10":3e-10,"r11":5e-11,"r12":2e-11,"r13":8e-10,"r14":5e-10,"r15":1e-11,"mb":2e-7,"mr":7e-10},
{"i":81,"b0":5e-7,"b1":2e-7,"b2":1e-6,"b3":1e-7,"b4":3e-7,"b5":3e-8,"b6":2e-7,"b7":5e-7,"b8":1e-7,"b9":5e-8,"b10":5e-7,"b11":2e-7,"b12":2e-8,"b13":1e-7,"b14":3e-8,"b15":3e-7,"r0":1e-9,"r1":5e-10,"r2":3e-10,"r3":1e-10,"r4":2e-10,"r5":5e-11,"r6":8e-10,"r7":1e-11,"r8":3e-11,"r9":2e-10,"r10":5e-10,"r11":2e-10,"r12":5e-12,"r13":3e-10,"r14":1e-9,"r15":2e-11,"mb":2.8e-7,"mr":6.3e-10},
{"i":82,"b0":2e-6,"b1":5e-6,"b2":1e-6,"b3":3e-7,"b4":5e-7,"b5":1e-7,"b6":2e-7,"b7":1e-6,"b8":5e-8,"b9":3e-7,"b10":2e-7,"b11":1e-6,"b12":3e-9,"b13":5e-7,"b14":1e-7,"b15":1e-7,"r0":2e-9,"r1":1e-9,"r2":5e-10,"r3":3e-10,"r4":1e-10,"r5":8e-10,"r6":2e-10,"r7":3e-11,"r8":5e-12,"r9":1e-11,"r10":2e-10,"r11":1e-10,"r12":1e-11,"r13":5e-10,"r14":8e-10,"r15":5e-12,"mb":7.8e-7,"mr":9.5e-10},
{"i":83,"b0":3e-7,"b1":1e-7,"b2":5e-7,"b3":2e-7,"b4":1e-7,"b5":5e-8,"b6":2e-8,"b7":3e-7,"b8":1e-6,"b9":1e-8,"b10":1e-7,"b11":2e-7,"b12":1e-8,"b13":3e-7,"b14":5e-8,"b15":5e-7,"r0":3e-10,"r1":5e-10,"r2":1e-10,"r3":1e-9,"r4":2e-10,"r5":3e-11,"r6":5e-11,"r7":8e-10,"r8":1e-11,"r9":2e-12,"r10":8e-10,"r11":5e-11,"r12":3e-12,"r13":1e-10,"r14":3e-10,"r15":1e-11,"mb":2.5e-7,"mr":5e-10},
{"i":84,"b0":1e-7,"b1":2e-7,"b2":3e-8,"b3":1e-7,"b4":5e-7,"b5":1e-8,"b6":5e-8,"b7":2e-7,"b8":3e-7,"b9":5e-9,"b10":3e-7,"b11":1e-7,"b12":5e-9,"b13":1e-7,"b14":2e-7,"b15":2e-7,"r0":5e-10,"r1":2e-10,"r2":3e-10,"r3":1e-10,"r4":1e-9,"r5":5e-11,"r6":2e-11,"r7":8e-10,"r8":3e-12,"r9":1e-10,"r10":5e-10,"r11":2e-10,"r12":2e-11,"r13":5e-10,"r14":1e-9,"r15":3e-12,"mb":1.1e-7,"mr":5.6e-10},
{"i":85,"b0":5e-8,"b1":1e-7,"b2":2e-7,"b3":3e-8,"b4":1e-7,"b5":3e-7,"b6":1e-8,"b7":5e-8,"b8":2e-7,"b9":5e-7,"b10":2e-7,"b11":5e-7,"b12":2e-8,"b13":5e-8,"b14":3e-8,"b15":1e-7,"r0":1e-9,"r1":3e-10,"r2":5e-10,"r3":2e-10,"r4":1e-10,"r5":8e-10,"r6":5e-11,"r7":1e-11,"r8":2e-11,"r9":3e-10,"r10":3e-10,"r11":1e-10,"r12":5e-12,"r13":8e-10,"r14":5e-10,"r15":2e-11,"mb":9e-8,"mr":6.3e-10},
{"i":86,"b0":3e-7,"b1":5e-7,"b2":1e-7,"b3":1e-6,"b4":2e-7,"b5":5e-8,"b6":3e-7,"b7":1e-7,"b8":2e-8,"b9":1e-6,"b10":1e-7,"b11":2e-7,"b12":1e-9,"b13":3e-7,"b14":1e-7,"b15":3e-7,"r0":2e-9,"r1":1e-9,"r2":5e-10,"r3":3e-10,"r4":1e-10,"r5":2e-10,"r6":1e-13,"r7":5e-11,"r8":8e-10,"r9":1e-11,"r10":5e-10,"r11":5e-11,"r12":1e-11,"r13":2e-10,"r14":3e-10,"r15":5e-12,"mb":2.7e-7,"mr":9.5e-10},
{"i":87,"b0":1e-7,"b1":3e-7,"b2":2e-7,"b3":5e-8,"b4":3e-7,"b5":1e-7,"b6":5e-7,"b7":1.6e-12,"b8":2e-7,"b9":3e-8,"b10":5e-7,"b11":1e-7,"b12":1e-8,"b13":1e-7,"b14":5e-8,"b15":1e-7,"r0":3e-10,"r1":5e-10,"r2":1e-10,"r3":2e-10,"r4":5e-11,"r5":1e-9,"r6":3e-11,"r7":8e-10,"r8":1e-11,"r9":2e-10,"r10":2e-10,"r11":2e-10,"r12":3e-12,"r13":5e-10,"r14":8e-10,"r15":1e-11,"mb":1.6e-7,"mr":4e-10},
{"i":88,"b0":2e-7,"b1":1e-7,"b2":3e-7,"b3":5e-7,"b4":5e-8,"b5":2e-7,"b6":1e-7,"b7":3e-8,"b8":1e-6,"b9":1e-8,"b10":2e-7,"b11":3e-7,"b12":5e-9,"b13":2e-7,"b14":2e-7,"b15":5e-7,"r0":5e-10,"r1":2e-10,"r2":3e-10,"r3":1e-9,"r4":1e-10,"r5":2e-12,"r6":8e-10,"r7":5e-11,"r8":2e-11,"r9":3e-10,"r10":8e-10,"r11":1e-10,"r12":2e-11,"r13":3e-10,"r14":5e-10,"r15":3e-11,"mb":1.3e-7,"mr":5e-10},
{"i":89,"b0":1e-7,"b1":5e-8,"b2":2e-7,"b3":1e-7,"b4":3e-7,"b5":2e-8,"b6":5e-7,"b7":1e-7,"b8":5e-9,"b9":3e-7,"b10":1e-7,"b11":1e-7,"b12":2e-8,"b13":5e-7,"b14":3e-8,"b15":2e-7,"r0":1e-9,"r1":5e-10,"r2":2e-10,"r3":3e-10,"r4":1e-10,"r5":8e-10,"r6":2e-11,"r7":5e-11,"r8":1e-11,"r9":2e-10,"r10":5e-10,"r11":5e-11,"r12":5e-12,"r13":1e-10,"r14":1e-9,"r15":1e-11,"mb":9e-8,"mr":6.3e-10},
{"i":90,"b0":2e-7,"b1":1e-7,"b2":5e-8,"b3":3e-7,"b4":1e-7,"b5":5e-7,"b6":3e-8,"b7":2e-7,"b8":1e-8,"b9":1e-7,"b10":3e-7,"b11":2e-7,"b12":3e-9,"b13":1e-7,"b14":1e-7,"b15":1e-7,"r0":3e-10,"r1":1e-9,"r2":5e-10,"r3":2e-10,"r4":1e-10,"r5":3e-11,"r6":8e-10,"r7":1e-11,"r8":5e-12,"r9":5e-11,"r10":3e-10,"r11":2e-10,"r12":1e-11,"r13":8e-10,"r14":3e-10,"r15":5e-12,"mb":9e-8,"mr":4.5e-10},
{"i":91,"b0":3e-7,"b1":5e-7,"b2":2e-7,"b3":1e-7,"b4":1e-6,"b5":5e-8,"b6":2e-7,"b7":3e-8,"b8":1e-7,"b9":5e-7,"b10":2e-7,"b11":5e-7,"b12":1e-8,"b13":3e-7,"b14":5e-8,"b15":3e-7,"r0":5e-10,"r1":3e-10,"r2":1e-10,"r3":1e-9,"r4":2e-10,"r5":5e-11,"r6":8e-10,"r7":3e-11,"r8":1e-11,"r9":2e-12,"r10":5e-10,"r11":1e-10,"r12":3e-12,"r13":5e-10,"r14":5e-10,"r15":2e-11,"mb":2e-7,"mr":5e-10},
{"i":92,"b0":3e-6,"b1":1.3e-5,"b2":1e-6,"b3":5e-7,"b4":3e-7,"b5":2e-6,"b6":2e-7,"b7":1e-7,"b8":5e-7,"b9":5e-8,"b10":5e-7,"b11":1e-6,"b12":5e-9,"b13":2e-7,"b14":2e-7,"b15":2e-6,"r0":1e-9,"r1":5e-10,"r2":2e-10,"r3":3e-10,"r4":1e-10,"r5":2e-9,"r6":8e-10,"r7":5e-11,"r8":1e-11,"r9":3e-11,"r10":8e-10,"r11":5e-11,"r12":2e-11,"r13":2e-10,"r14":1e-9,"r15":1e-11,"mb":1.3e-6,"mr":6.3e-10},
{"i":93,"b0":2e-7,"b1":5e-7,"b2":1e-7,"b3":3e-7,"b4":1e-7,"b5":1e-6,"b6":5e-8,"b7":2e-7,"b8":2e-8,"b9":3e-7,"b10":1e-7,"b11":3e-7,"b12":2e-8,"b13":1e-7,"b14":1e-7,"b15":5e-7,"r0":6e-9,"r1":1e-9,"r2":5e-10,"r3":2e-10,"r4":3e-10,"r5":1e-10,"r6":5e-11,"r7":6e-13,"r8":2e-11,"r9":8e-10,"r10":3e-10,"r11":2e-10,"r12":5e-12,"r13":5e-10,"r14":3e-10,"r15":3e-12,"mb":1.9e-7,"mr":1.3e-9},
{"i":94,"b0":3e-5,"b1":1e-6,"b2":3e-7,"b3":5e-7,"b4":1e-7,"b5":2e-7,"b6":1e-6,"b7":5e-8,"b8":3e-7,"b9":2e-6,"b10":3e-7,"b11":2e-7,"b12":1e-9,"b13":5e-7,"b14":5e-8,"b15":1e-6,"r0":5e-10,"r1":2e-10,"r2":1e-9,"r3":1e-10,"r4":3e-10,"r5":8e-10,"r6":2e-11,"r7":5e-11,"r8":1e-11,"r9":3e-12,"r10":5e-10,"r11":1e-10,"r12":1e-11,"r13":3e-10,"r14":8e-10,"r15":2e-11,"mb":4e-7,"mr":6.3e-10},
{"i":95,"b0":2e-6,"b1":5e-6,"b2":1e-6,"b3":3e-7,"b4":5e-7,"b5":2e-7,"b6":1e-7,"b7":3e-6,"b8":5e-8,"b9":1e-7,"b10":2e-7,"b11":1e-6,"b12":1e-8,"b13":3e-7,"b14":2e-7,"b15":3e-7,"r0":2e-9,"r1":1e-9,"r2":3e-10,"r3":5e-10,"r4":1e-10,"r5":8e-10,"r6":2e-10,"r7":3e-11,"r8":1e-11,"r9":5e-13,"r10":2e-10,"r11":5e-11,"r12":3e-12,"r13":8e-10,"r14":5e-10,"r15":1e-11,"mb":7.8e-7,"mr":1.3e-9},
{"i":96,"b0":1e-7,"b1":2e-7,"b2":3e-7,"b3":5e-8,"b4":1e-7,"b5":3e-8,"b6":5e-7,"b7":1e-8,"b8":2e-7,"b9":1e-7,"b10":1e-7,"b11":2e-7,"b12":5e-9,"b13":1e-7,"b14":3e-8,"b15":1e-7,"r0":3e-10,"r1":5e-10,"r2":1e-10,"r3":2e-10,"r4":5e-11,"r5":1e-9,"r6":1e-11,"r7":3e-11,"r8":2e-12,"r9":1e-10,"r10":8e-10,"r11":2e-10,"r12":2e-11,"r13":1e-10,"r14":1e-9,"r15":5e-12,"mb":1.6e-7,"mr":3.2e-10},
{"i":97,"b0":5e-8,"b1":1e-7,"b2":2e-8,"b3":1e-7,"b4":3e-7,"b5":5e-8,"b6":2e-7,"b7":1e-8,"b8":3e-9,"b9":2e-7,"b10":3e-7,"b11":1e-7,"b12":2e-8,"b13":5e-8,"b14":1e-7,"b15":2e-7,"r0":5e-10,"r1":2e-10,"r2":3e-10,"r3":1e-10,"r4":1e-9,"r5":5e-11,"r6":8e-10,"r7":2e-11,"r8":1e-11,"r9":3e-12,"r10":5e-10,"r11":1e-10,"r12":5e-12,"r13":5e-10,"r14":3e-10,"r15":1e-12,"mb":6.8e-8,"mr":6.3e-10},
{"i":98,"b0":3e-7,"b1":1e-6,"b2":5e-7,"b3":2e-7,"b4":1e-7,"b5":5e-7,"b6":1e-7,"b7":5e-8,"b8":2e-6,"b9":3e-8,"b10":2e-7,"b11":5e-7,"b12":3e-9,"b13":3e-7,"b14":5e-8,"b15":5e-7,"r0":1e-9,"r1":3e-10,"r2":5e-10,"r3":1e-10,"r4":2e-10,"r5":8e-10,"r6":3e-13,"r7":5e-11,"r8":2e-11,"r9":1e-11,"r10":3e-10,"r11":5e-11,"r12":1e-11,"r13":3e-10,"r14":8e-10,"r15":2e-11,"mb":3.2e-7,"mr":4.5e-10},
{"i":99,"b0":5e-7,"b1":2e-6,"b2":1e-6,"b3":3e-7,"b4":5e-7,"b5":1e-7,"b6":2e-7,"b7":3e-8,"b8":1e-6,"b9":3e-9,"b10":1e-7,"b11":3e-7,"b12":1e-8,"b13":2e-7,"b14":2e-7,"b15":1e-7,"r0":1e-9,"r1":5e-10,"r2":3e-10,"r3":2e-10,"r4":1e-10,"r5":5e-11,"r6":8e-10,"r7":3e-12,"r8":2e-11,"r9":3e-10,"r10":5e-10,"r11":2e-10,"r12":3e-12,"r13":8e-10,"r14":5e-10,"r15":1e-11,"mb":7e-7,"mr":3.5e-10}
]},
"encoding":{"x":{"field":"i","type":"quantitative","scale":{"domain":[-4.95,103.95],"nice":false,"zero":false},"axis":{"title":"Iteration","values":[0,20,40,60,80,100],"format":"d","labelBaseline":"alphabetic","labelPadding":17,"titleBaseline":"alphabetic","titleY":53}}},
"layer":[
{"transform":[{"fold":["b0","b1","b2","b3","b4","b5","b6","b7","b8","b9","b10","b11","b12","b13","b14","b15"],"as":["run","v"]}],
 "mark":{"type":"line","stroke":"#9999ee","strokeWidth":1.5},
 "encoding":{"y":{"field":"v","type":"quantitative","scale":{"type":"log","domain":[3.09e-17,1.714e-2],"nice":false},"axis":{"title":"Variance","values":[1e-15,1e-13,1e-11,1e-9,1e-7,1e-5,1e-3],"labelPadding":4,"labelExpr":"'10⁻' + (abs(round(log(datum.value)/LN10)) >= 10 ? '¹' : '') + substring('⁰¹²³⁴⁵⁶⁷⁸⁹', abs(round(log(datum.value)/LN10)) % 10, abs(round(log(datum.value)/LN10)) % 10 + 1)","titleAngle":270,"titleX":-73,"titleY":160,"titleAlign":"center","titleBaseline":"alphabetic"}},"detail":{"field":"run"}}},
{"transform":[{"fold":["r0","r1","r2","r3","r4","r5","r6","r7","r8","r9","r10","r11","r12","r13","r14","r15"],"as":["run","v"]}],
 "mark":{"type":"line","stroke":"#f59999","strokeWidth":1.5},
 "encoding":{"y":{"field":"v","type":"quantitative","scale":{"type":"log","domain":[3.09e-17,1.714e-2],"nice":false},"axis":{"title":"Variance","values":[1e-15,1e-13,1e-11,1e-9,1e-7,1e-5,1e-3],"labelPadding":4,"labelExpr":"'10⁻' + (abs(round(log(datum.value)/LN10)) >= 10 ? '¹' : '') + substring('⁰¹²³⁴⁵⁶⁷⁸⁹', abs(round(log(datum.value)/LN10)) % 10, abs(round(log(datum.value)/LN10)) % 10 + 1)","titleAngle":270,"titleX":-73,"titleY":160,"titleAlign":"center","titleBaseline":"alphabetic"}},"detail":{"field":"run"}}},
{"mark":{"type":"line","strokeWidth":3,"strokeDash":[12,4,3,4]},
 "encoding":{"y":{"field":"mb","type":"quantitative","scale":{"type":"log","domain":[3.09e-17,1.714e-2],"nice":false},"axis":{"title":"Variance","values":[1e-15,1e-13,1e-11,1e-9,1e-7,1e-5,1e-3],"labelPadding":4,"labelExpr":"'10⁻' + (abs(round(log(datum.value)/LN10)) >= 10 ? '¹' : '') + substring('⁰¹²³⁴⁵⁶⁷⁸⁹', abs(round(log(datum.value)/LN10)) % 10, abs(round(log(datum.value)/LN10)) % 10 + 1)","titleAngle":270,"titleX":-73,"titleY":160,"titleAlign":"center","titleBaseline":"alphabetic"}},
 "color":{"datum":"Algorithm of [15]","type":"nominal","scale":{"domain":["Algorithm of [15]","Proposed Algorithm"],"range":["#0000cc","#e00000"]},
  "legend":{"title":null,"orient":"none","legendX":768,"legendY":12,"labelFontSize":25,"labelFont":"DejaVu Sans","labelColor":"#000000","labelLimit":500,"symbolType":"M-1,0H3","symbolSize":702,"symbolStrokeWidth":3,"symbolDash":[1,0],"labelOffset":44.5,"padding":8,"rowPadding":11,"fillColor":"rgba(255,255,255,0.8)","strokeColor":"#cccccc","cornerRadius":4}}}},
{"mark":{"type":"line","strokeWidth":3,"strokeDash":[12,4,3,4]},
 "encoding":{"y":{"field":"mr","type":"quantitative","scale":{"type":"log","domain":[3.09e-17,1.714e-2],"nice":false},"axis":{"title":"Variance","values":[1e-15,1e-13,1e-11,1e-9,1e-7,1e-5,1e-3],"labelPadding":4,"labelExpr":"'10⁻' + (abs(round(log(datum.value)/LN10)) >= 10 ? '¹' : '') + substring('⁰¹²³⁴⁵⁶⁷⁸⁹', abs(round(log(datum.value)/LN10)) % 10, abs(round(log(datum.value)/LN10)) % 10 + 1)","titleAngle":270,"titleX":-73,"titleY":160,"titleAlign":"center","titleBaseline":"alphabetic"}},
 "color":{"datum":"Proposed Algorithm","type":"nominal"}}}
]
}
